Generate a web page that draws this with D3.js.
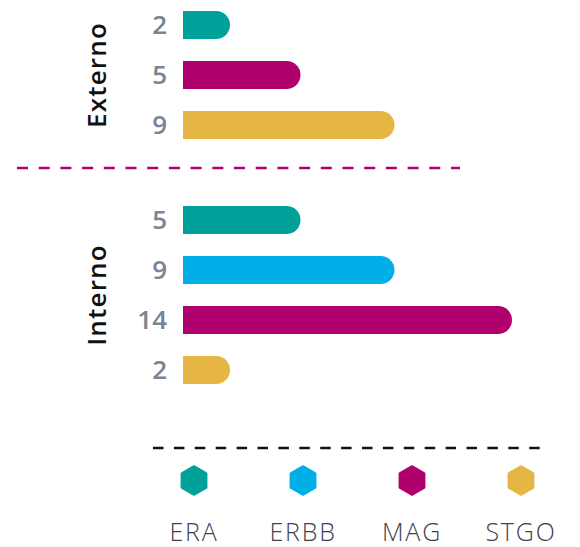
<!DOCTYPE html>
<html>
<head>
<meta charset="utf-8">
<script src="https://cdn.jsdelivr.net/npm/d3@7"></script>
<style>
  body { margin: 0; background: #fff; }
  svg { display: block; }
</style>
</head>
<body>
<div id="chart"></div>
<script>
// data
const groups = ["Externo", "Interno"];
const externoCats = ["ERA", "MAG", "STGO"];
const externoVals = [2, 5, 9];
const internoCats = ["ERA", "ERBB", "MAG", "STGO"];
const internoVals = [5, 9, 14, 2];
const legendCats = ["ERA", "ERBB", "MAG", "STGO"];
const legendColors = ["#00a19a", "#00aee8", "#b0006e", "#e6b645"];

const width = 580, height = 547;
const color = d3.scaleOrdinal().domain(legendCats).range(legendColors);

const svg = d3.select("#chart")
    .append("svg")
    .attr("width", width)
    .attr("height", height);

const xScale = d3.scaleLinear().domain([0, 14]).range([183, 512]);

const blocks = [
    { name: groups[0], cats: externoCats, vals: externoVals, range: [0, 150] },
    { name: groups[1], cats: internoCats, vals: internoVals, range: [195, 395] }
];

// bar with square left end and round right end
function barPath(x0, x1, y, h) {
    const r = h / 2;
    const p = d3.path();
    p.moveTo(x0, y);
    p.lineTo(Math.max(x0, x1 - r), y);
    p.arc(Math.max(x0, x1 - r), y + r, r, -Math.PI / 2, Math.PI / 2);
    p.lineTo(x0, y + h);
    p.closePath();
    return p.toString();
}

blocks.forEach(b => {
    const yScale = d3.scaleBand()
        .domain(b.cats)
        .range(b.range)
        .paddingInner(0.44)
        .paddingOuter(0.22);

    const rows = b.cats.map((c, i) => ({ cat: c, val: b.vals[i] }));
    const g = svg.append("g");

    g.selectAll("path.bar")
        .data(rows)
        .enter()
        .append("path")
            .attr("class", "bar")
            .attr("fill", d => color(d.cat))
            .attr("d", d => barPath(xScale(0), xScale(d.val), yScale(d.cat), yScale.bandwidth()));

    g.selectAll("text.val")
        .data(rows)
        .enter()
        .append("text")
            .attr("class", "val")
            .attr("x", xScale(0) - 16)
            .attr("y", d => yScale(d.cat) + yScale.bandwidth() / 2)
            .attr("dy", "0.36em")
            .attr("text-anchor", "end")
            .attr("fill", "#7b8394")
            .style("font-family", "'Open Sans', sans-serif")
            .style("font-weight", 600)
            .style("font-size", "26px")
            .text(d => d.val);

    const cy = (b.range[0] + b.range[1]) / 2;
    g.append("text")
        .attr("transform", `translate(106,${cy}) rotate(-90)`)
        .attr("text-anchor", "middle")
        .attr("fill", "#111")
        .style("font-family", "'Open Sans', sans-serif")
        .style("font-weight", 600)
        .style("font-size", "26px")
        .style("letter-spacing", "1.2px")
        .text(b.name);
});

// separators
svg.append("line")
    .attr("x1", 17).attr("x2", 460)
    .attr("y1", 168).attr("y2", 168)
    .attr("stroke", "#b0006e")
    .attr("stroke-width", 2.5)
    .attr("stroke-dasharray", "11,10.7");

svg.append("line")
    .attr("x1", 153).attr("x2", 541)
    .attr("y1", 448).attr("y2", 448)
    .attr("stroke", "#111")
    .attr("stroke-width", 2.5)
    .attr("stroke-dasharray", "10.5,10.4");

// legend
const legendX = d3.scalePoint().domain(legendCats).range([194, 521]);
const hex = d3.range(6).map(i => {
    const a = Math.PI / 3 * i - Math.PI / 2;
    return [13.5 * Math.cos(a), 13.5 * Math.sin(a)];
});

const legend = svg.append("g")
    .selectAll("g")
    .data(legendCats)
    .enter()
    .append("g")
    .attr("transform", d => `translate(${legendX(d)},0)`);

legend.append("path")
    .attr("transform", "translate(0,480.5)")
    .attr("d", d3.line().curve(d3.curveLinearClosed)(hex))
    .attr("fill", d => color(d))
    .attr("stroke", d => color(d))
    .attr("stroke-width", 3.5)
    .attr("stroke-linejoin", "round");

legend.append("text")
    .attr("y", 541)
    .attr("text-anchor", "middle")
    .attr("fill", "#3c4350")
    .style("font-family", "'Open Sans', sans-serif")
    .style("font-weight", 300)
    .style("font-size", "25px")
    .style("letter-spacing", "1.8px")
    .text(d => d);
</script>
</body>
</html>
